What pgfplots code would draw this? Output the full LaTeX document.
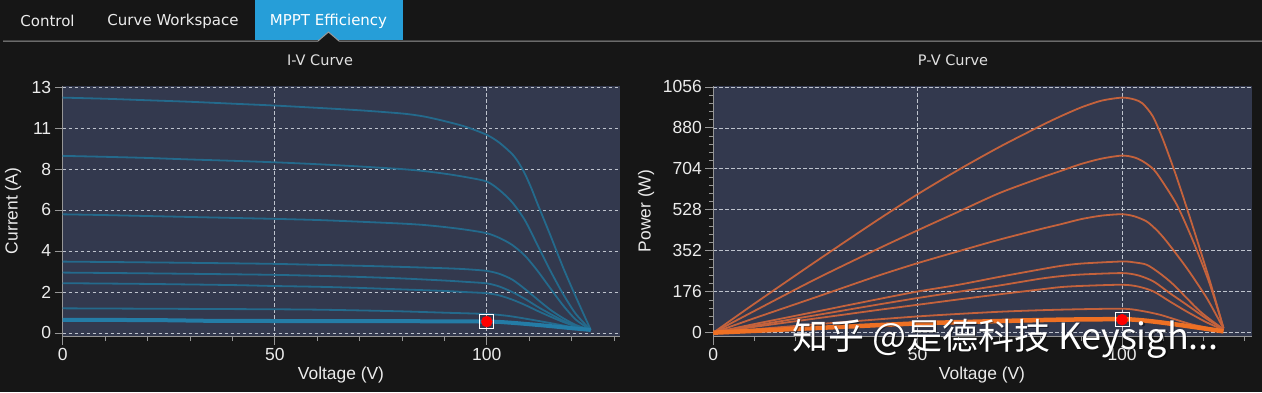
\documentclass[border=0pt]{standalone}
\usepackage{pgfplots}
\pgfplotsset{compat=1.18}
\usepackage{fontspec}
\setmainfont{Liberation Sans}
\newfontfamily\uifont{DejaVu Sans}
\newfontfamily\cjk{Noto Sans CJK SC}
\definecolor{pagebg}{RGB}{22,22,22}
\definecolor{plotbg}{RGB}{51,57,78}
\definecolor{tabblue}{RGB}{38,158,216}
\definecolor{ivline}{RGB}{36,106,140}
\definecolor{ivthick}{RGB}{36,124,166}
\definecolor{pvline}{RGB}{196,98,60}
\definecolor{pvthick}{RGB}{238,112,36}
\definecolor{gridc}{RGB}{190,195,205}
\definecolor{axisc}{RGB}{150,150,150}
\definecolor{txt}{RGB}{236,236,236}
\pgfplotsset{
  panel/.style={
    scale only axis, width=#1, height=251.2pt, anchor=south west,
    axis background/.style={fill=plotbg},
    axis x line*=bottom, axis y line*=left,
    axis line style={-, draw=axisc, line width=0.8pt},
    tick align=outside, major tick length=8pt, minor tick length=4.5pt,
    every tick/.style={draw=axisc, line width=0.8pt},
    every minor tick/.style={draw=axisc, line width=0.8pt},
    xtick pos=bottom, ytick pos=left,
    grid=major,
    major grid style={draw=gridc, line width=0.7pt, dash pattern=on 3.5pt off 2.5pt},
    tick label style={font=\fontsize{17.5}{18}\selectfont, text=txt},
    /pgf/number format/assume math mode=true,
    /pgf/number format/1000 sep={},
    xtick={0,50,100}, minor xtick={10,20,30,40,60,70,80,90,110,120,130},
    xticklabels={0,50,100},
    minor y tick num=4,
  },
  ivl/.style={ivline, line width=1.8pt, smooth, tension=0.45},
  pvl/.style={pvline, line width=1.8pt, smooth, tension=0.45},
}
\begin{document}
\begin{tikzpicture}
\fill[pagebg] (0pt,0pt) rectangle (1262pt,-392pt);
% tabs
\fill[tabblue] (255pt,0pt) rectangle (403pt,-40pt);
\fill[pagebg] (318pt,-41pt) -- (328.5pt,-32pt) -- (339pt,-41pt) -- cycle;
\draw[gray!80, line width=1pt] (3pt,-41pt) -- (318pt,-41pt) -- (328.5pt,-32pt) -- (339pt,-41pt) -- (1262pt,-41pt);
\node[font=\uifont\fontsize{15}{18}\selectfont, text=txt] at (47.5pt,-21pt) {Control};
\node[font=\uifont\fontsize{15}{18}\selectfont, text=txt] at (173pt,-21pt) {Curve Workspace};
\node[font=\uifont\fontsize{15}{18}\selectfont, text=white] at (328.5pt,-21pt) {MPPT Efficiency};
% titles
\node[font=\uifont\fontsize{14.5}{18}\selectfont, text=txt!90!gray] at (320pt,-60pt) {I-V Curve};
\node[font=\uifont\fontsize{14.5}{18}\selectfont, text=txt!90!gray] at (953pt,-60pt) {P-V Curve};
% axis labels
\node[font=\fontsize{17.4}{18}\selectfont, text=txt, rotate=90] at (13pt,-211pt) {Current (A)};
\node[font=\fontsize{17.4}{18}\selectfont, text=txt, rotate=90] at (646pt,-211pt) {Power (W)};
\node[font=\fontsize{17.4}{18}\selectfont, text=txt] at (341pt,-375pt) {Voltage (V)};
\node[font=\fontsize{17.4}{18}\selectfont, text=txt] at (982pt,-375pt) {Voltage (V)};

\begin{axis}[panel=557.3pt, at={(62.7pt,-336.7pt)},
  xmin=0, xmax=131.4, ymin=-0.2, ymax=13.08,
  ytick={0,2.16667,4.33333,6.5,8.66667,10.83333,13},
  yticklabels={0,2,4,6,8,11,13}]
\addplot[ivl] coordinates {(0,12.44)(10,12.38)(20,12.30)(30,12.22)(40,12.12)(50,12.02)(60,11.90)(70,11.77)(80,11.60)(85,11.45)(90,11.20)(95,10.90)(100,10.47)(103,10.05)(106,9.45)(107.5,9.00)(109,8.40)(110.5,7.65)(112,6.80)(115,5.15)(118,3.45)(121,1.90)(124.5,0.16)};
\addplot[ivl] coordinates {(0,9.36)(10,9.31)(20,9.25)(30,9.17)(40,9.10)(50,9.02)(60,8.92)(70,8.80)(80,8.66)(85,8.56)(90,8.42)(95,8.24)(100,8.00)(103,7.55)(106,6.90)(109,5.95)(112,4.62)(115,3.28)(118,2.05)(121,1.00)(124.5,0.16)};
\addplot[ivl] coordinates {(0,6.27)(10,6.23)(20,6.18)(30,6.13)(40,6.08)(50,6.03)(60,5.97)(70,5.88)(80,5.78)(85,5.71)(90,5.60)(95,5.46)(100,5.27)(103,5.02)(106,4.65)(109,4.08)(112,3.27)(115,2.35)(118,1.45)(121,0.70)(124.5,0.16)};
\addplot[ivl] coordinates {(0,3.77)(20,3.73)(40,3.68)(50,3.65)(60,3.60)(70,3.55)(80,3.49)(90,3.42)(95,3.37)(100,3.28)(103,3.12)(106,2.82)(109,2.32)(112,1.76)(115,1.22)(118,0.78)(121,0.42)(124.5,0.16)};
\addplot[ivl] coordinates {(0,3.19)(20,3.15)(40,3.10)(50,3.07)(60,3.02)(70,2.96)(80,2.88)(90,2.77)(95,2.70)(100,2.62)(103,2.45)(106,2.16)(109,1.80)(112,1.38)(115,1.00)(118,0.65)(121,0.37)(124.5,0.16)};
\addplot[ivl] coordinates {(0,2.63)(20,2.59)(40,2.53)(50,2.48)(60,2.44)(70,2.38)(80,2.30)(90,2.22)(95,2.16)(100,2.10)(103,1.98)(106,1.76)(109,1.48)(112,1.16)(115,0.86)(118,0.58)(121,0.34)(124.5,0.16)};
\addplot[ivl] coordinates {(0,1.30)(20,1.28)(40,1.26)(50,1.25)(60,1.23)(70,1.19)(80,1.14)(90,1.07)(100,1.00)(105,0.90)(110,0.72)(115,0.52)(120,0.31)(124.5,0.16)};
\addplot[ivthick, line width=4pt, smooth, tension=0.45] coordinates {(0,0.69)(20,0.68)(28,0.66)(35,0.64)(50,0.63)(80,0.62)(100,0.60)(105,0.55)(110,0.46)(115,0.36)(120,0.25)(124.5,0.16)};
\addplot[only marks, mark=square, mark size=7pt, mark options={draw=white, fill=none, line width=1pt}] coordinates {(100,0.60)};
\addplot[only marks, mark=*, mark size=5.5pt, mark options={fill=red, draw=red}] coordinates {(100,0.60)};
\end{axis}

\begin{axis}[panel=538.4pt, at={(713.3pt,-336.7pt)},
  xmin=0, xmax=131.7, ymin=-17.2, ymax=1062,
  ytick={0,176,352,528,704,880,1056}]
\addplot[pvl] coordinates {(0,0)(10,124)(25,305)(40,482)(50,595)(60,700)(70,798)(80,888)(85,930)(90,968)(95,997)(100,1010)(103,1002)(105,985)(107.5,930)(110,830)(113.4,665)(117.4,450)(121.5,220)(124.8,20)};
\addplot[pvl] coordinates {(0,0)(10,93)(25,230)(40,358)(50,440)(60,520)(70,600)(80,665)(85,695)(90,725)(95,748)(100,761)(103,753)(105.2,735)(107.5,705)(109.3,664)(113.4,549)(117.4,392)(121.5,206)(124.8,20)};
\addplot[pvl] coordinates {(0,0)(10,62)(25,152)(40,243)(50,299)(60,350)(70,400)(80,445)(85,466)(90,488)(95,503)(100,509)(103,500)(106,478)(108.5,440)(110.9,392)(115.8,278)(120.7,149)(124.8,18)};
\addplot[pvl] coordinates {(0,0)(10,37)(25,90)(40,143)(50,177)(60,206)(70,240)(80,272)(85,287)(90,297)(100,306)(103,302)(106,292)(109,258)(112.6,206)(119.1,91)(124.8,15)};
\addplot[pvl] coordinates {(0,0)(10,30)(25,75)(40,120)(50,149)(60,176)(70,203)(80,232)(85,243)(90,250)(100,256)(104,246)(107.7,220)(111.5,172)(115.8,120)(120.5,62)(124.8,14)};
\addplot[pvl] coordinates {(0,0)(10,25)(25,61)(40,97)(50,120)(60,143)(70,165)(80,186)(85,196)(90,201)(100,206)(104,198)(107.7,177)(111.5,136)(115.8,91)(120.5,46)(124.8,12)};
\addplot[pvl] coordinates {(0,0)(25,36)(50,70)(70,90)(85,99)(100,103)(105,93)(109.3,77)(113,57)(117.4,34)(124.8,8)};
\addplot[pvthick, line width=4.5pt, smooth, tension=0.45] coordinates {(0,0)(25,20)(50,40)(70,50)(85,56)(100,58)(105,53)(110,43)(117,26)(124.8,6)};
\addplot[only marks, mark=square, mark size=7pt, mark options={draw=white, fill=none, line width=1pt}] coordinates {(100,56)};
\addplot[only marks, mark=*, mark size=5.5pt, mark options={fill=red, draw=red}] coordinates {(100,56)};
\end{axis}

% watermark
\node[anchor=base west, text=black, opacity=0.45, font=\cjk\fontsize{36}{40}\selectfont] at (790pt,-350.5pt) {知乎 @是德科技 Keysigh...};
\node[anchor=base west, text=white, font=\cjk\fontsize{36}{40}\selectfont] at (788.5pt,-349pt) {知乎 @是德科技 Keysigh...};
\pgfresetboundingbox
\useasboundingbox (0pt,0pt) rectangle (1262pt,-392pt);
\end{tikzpicture}
\end{document}
